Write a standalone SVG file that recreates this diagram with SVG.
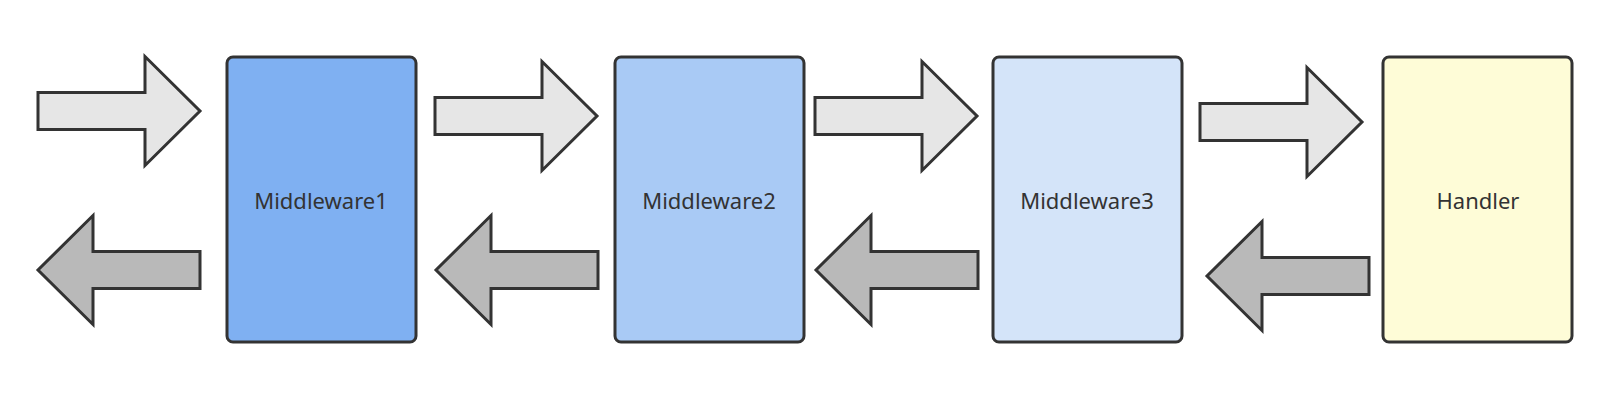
<svg xmlns="http://www.w3.org/2000/svg" xmlns:xlink="http://www.w3.org/1999/xlink" width="1604" height="416" viewBox="0 0 1604 416">
<style>
.box{stroke:#333;stroke-width:3}
.lbl{font-family:"Noto Sans","Liberation Sans",sans-serif;font-size:22px;fill:#333;text-anchor:middle}
.fwd{fill:#e6e6e6;stroke:#333;stroke-width:3;stroke-linejoin:miter}
.back{fill:#b9b9b9;stroke:#333;stroke-width:3;stroke-linejoin:miter}
</style>
<defs>
<polygon id="arr" points="0,-18.5 107,-18.5 107,-54.5 162,0 107,54.5 107,18.5 0,18.5"/>
</defs>
<rect width="1604" height="416" fill="#fff"/>
<g id="connectors">
<use xlink:href="#arr" href="#arr" class="fwd" transform="translate(38,111)"/>
<use xlink:href="#arr" href="#arr" class="fwd" transform="translate(435,116)"/>
<use xlink:href="#arr" href="#arr" class="fwd" transform="translate(815,116)"/>
<use xlink:href="#arr" href="#arr" class="fwd" transform="translate(1200,122)"/>
<use xlink:href="#arr" href="#arr" class="back" transform="translate(200,270) scale(-1,1)"/>
<use xlink:href="#arr" href="#arr" class="back" transform="translate(598,270) scale(-1,1)"/>
<use xlink:href="#arr" href="#arr" class="back" transform="translate(978,270) scale(-1,1)"/>
<use xlink:href="#arr" href="#arr" class="back" transform="translate(1369,276) scale(-1,1)"/>
</g>
<g id="middleware1">
<rect class="box" x="227" y="57" width="189" height="285" rx="6" fill="#7fb0f2"/>
<text class="lbl" x="321" y="209">Middleware1</text>
</g>
<g id="middleware2">
<rect class="box" x="615" y="57" width="189" height="285" rx="6" fill="#a9caf5"/>
<text class="lbl" x="709" y="209">Middleware2</text>
</g>
<g id="middleware3">
<rect class="box" x="993" y="57" width="189" height="285" rx="6" fill="#d4e4f9"/>
<text class="lbl" x="1087" y="209">Middleware3</text>
</g>
<g id="handler">
<rect class="box" x="1383" y="57" width="189" height="285" rx="6" fill="#fefcd7"/>
<text class="lbl" x="1478" y="209">Handler</text>
</g>
</svg>
